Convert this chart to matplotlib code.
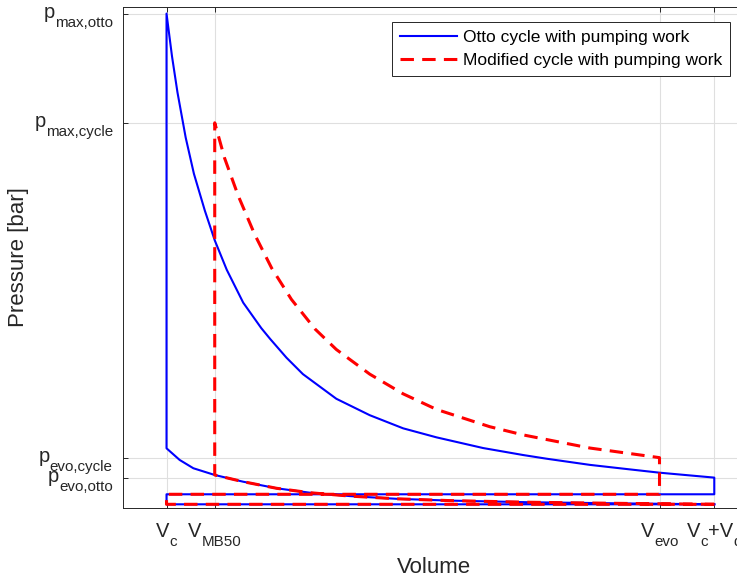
import numpy as np
import matplotlib.pyplot as plt

plt.rcParams['font.family'] = ['Liberation Sans', 'DejaVu Sans']

# volumes (Vc = 1, Vc+Vd = 11) and pressures [bar]
v_c, v_mb50, v_evo, v_bdc = 1.0, 1.88, 10.0, 11.0
p_max_otto, p_max_cycle = 60.2, 46.9
p_evo_cycle, p_evo_otto = 6.13, 3.70
p_exh, p_int = 1.67, 0.45

# compression line (shared by both cycles)
comp_v = [1.00, 1.24, 1.49, 1.88, 2.40, 3.01, 3.62, 4.35, 5.20, 6.17, 7.63, 9.46, 11.0]
comp_p = [7.27, 5.85, 4.84, 4.02, 3.20, 2.40, 1.86, 1.45, 1.12, 0.90, 0.70, 0.55, 0.45]

# expansion, Otto cycle
otto_v = [1.00, 1.10, 1.20, 1.35, 1.50, 1.70, 1.88, 2.10, 2.40, 2.73, 2.89, 3.19,
          3.49, 4.10, 4.71, 5.32, 5.93, 6.78, 7.51, 7.94, 8.73, 9.46, 10.0, 11.0]
otto_p = [60.2, 55.0, 50.6, 45.1, 40.7, 36.2, 32.6, 29.0, 25.0, 21.9, 20.6, 18.3,
          16.3, 13.3, 11.3, 9.7, 8.6, 7.3, 6.45, 6.0, 5.25, 4.70, 4.30, 3.70]

# expansion, modified cycle
mod_v = [1.88, 2.06, 2.31, 2.61, 2.92, 3.28, 3.71, 4.10, 4.71, 5.32, 5.93, 6.90,
         7.51, 8.73, 10.0]
mod_p = [46.9, 42.6, 38.0, 33.3, 29.2, 25.4, 21.8, 19.3, 16.3, 13.9, 12.0, 9.9,
         8.9, 7.3, 6.13]

xtick_vals = [v_c, v_mb50, v_evo, v_bdc]
xtick_parts = [[('V', 0), ('c', 1)], [('V', 0), ('MB50', 1)],
               [('V', 0), ('evo', 1)], [('V', 0), ('c', 1), ('+V', 0), ('d', 1)]]
ytick_vals = [p_evo_otto, p_evo_cycle, p_max_cycle, p_max_otto]
ytick_parts = [[('p', 0), ('evo,otto', 1)], [('p', 0), ('evo,cycle', 1)],
               [('p', 0), ('max,cycle', 1)], [('p', 0), ('max,otto', 1)]]

# closed loops
cv = np.array(comp_v)
cp = np.array(comp_p)
otto_x = np.concatenate([cv[::-1], otto_v, [v_bdc, v_c, v_c, v_bdc]])
otto_y = np.concatenate([cp[::-1], otto_p, [p_exh, p_exh, p_int, p_int]])

keep = cv >= v_mb50
mod_x = np.concatenate([cv[keep][::-1], mod_v, [v_evo, v_c, v_c, v_bdc]])
mod_y = np.concatenate([cp[keep][::-1], mod_p, [p_exh, p_exh, p_int, p_int]])

fig = plt.figure(figsize=(7.37, 5.80), dpi=100)
ax = fig.add_axes([122.7 / 737, 72 / 580, 635.4 / 737, 501 / 580])

ax.plot(otto_x, otto_y, color='#0000ff', lw=1.5, label='Otto cycle with pumping work')
ax.plot(mod_x, mod_y, color='#ff0000', lw=2.2, linestyle=(0, (4.4, 2.7)),
        label='Modified cycle with pumping work')

ax.set_xlim(0.2, 11.8)
ax.set_ylim(0, 61)
ax.set_xticks(xtick_vals)
ax.set_xticklabels([])
ax.set_yticks(ytick_vals)
ax.set_yticklabels([])

ax.grid(True, color='#dfdfdf', lw=0.8)
ax.set_axisbelow(True)
ax.tick_params(direction='in', top=True, right=True, length=3.8, width=0.7,
               color='#262626')
for s in ax.spines.values():
    s.set_color('#262626')
    s.set_linewidth(0.7)

# tick labels with TeX-like subscripts, as in the original
renderer = fig.canvas.get_renderer()
main_size, sub_size, sub_drop = 14.5, 10.9, 9


def text_width(s, size):
    t = fig.text(0, 0, s, fontsize=size)
    w = t.get_window_extent(renderer).width
    t.remove()
    return w


def put_label(xy, trans, parts, x_start, baseline):
    x0 = x_start
    for s, sub in parts:
        size = sub_size if sub else main_size
        ax.annotate(s, xy=xy, xycoords=trans, xytext=(x0, -baseline - sub * sub_drop),
                    textcoords='offset pixels', ha='left', va='baseline',
                    fontsize=size, color='#262626', annotation_clip=False)
        x0 += text_width(s, size)


for v, parts in zip(xtick_vals, xtick_parts):
    total = sum(text_width(s, sub_size if sub else main_size) for s, sub in parts)
    put_label((v, 0), ax.get_xaxis_transform(), parts, -total / 2, 28.7)

for p, parts in zip(ytick_vals, ytick_parts):
    total = sum(text_width(s, sub_size if sub else main_size) for s, sub in parts)
    put_label((0, p), ax.get_yaxis_transform(), parts, -total - 10, 4.5)

ax.set_xlabel('Volume', fontsize=16, color='#262626')
ax.set_ylabel('Pressure [bar]', fontsize=16, color='#262626')
ax.xaxis.set_label_coords(0.49, -0.097)
ax.yaxis.set_label_coords(-0.148, 0.5)

leg = ax.legend(loc='upper right', bbox_to_anchor=(730 / 737, 1 - 21.7 / 580),
                bbox_transform=fig.transFigure, borderaxespad=0, fontsize=12.5,
                fancybox=False, framealpha=1, edgecolor='#262626',
                handlelength=3.3, handletextpad=0.35, labelspacing=0.5,
                borderpad=0.45)
leg.get_frame().set_linewidth(0.7)

fig.savefig('out.png', dpi=100)
